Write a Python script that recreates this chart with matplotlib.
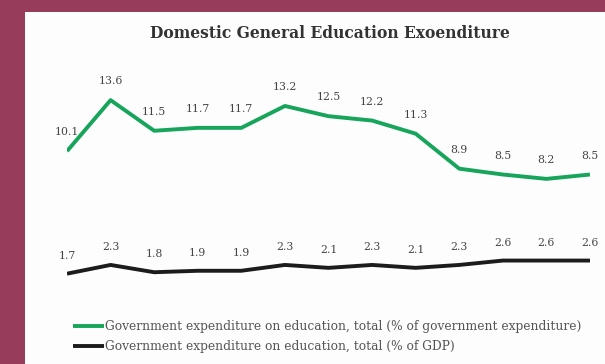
import matplotlib
matplotlib.use("Agg")
import matplotlib.pyplot as plt
from matplotlib.patches import Rectangle

# Data
years = list(range(13))
pct_gov_exp = [10.1, 13.6, 11.5, 11.7, 11.7, 13.2, 12.5, 12.2, 11.3, 8.9, 8.5, 8.2, 8.5]
pct_gdp = [1.7, 2.3, 1.8, 1.9, 1.9, 2.3, 2.1, 2.3, 2.1, 2.3, 2.6, 2.6, 2.6]
series_names = [
    "Government expenditure on education, total (% of government expenditure)",
    "Government expenditure on education, total (% of GDP)",
]
title = "Domestic General Education Exoenditure"

GREEN = "#16a55a"
BLACK = "#1c1c1c"
MAROON = "#983c5c"

plt.rcParams["font.family"] = ["DejaVu Serif"]

fig = plt.figure(figsize=(6.05, 3.64), dpi=100)
fig.patch.set_facecolor(MAROON)
# white slide panel
fig.patches.append(Rectangle((25 / 605, 0), 1, 1 - 12 / 364, transform=fig.transFigure,
                             facecolor="#fdfdfd", edgecolor="none", zorder=-5))

ax = fig.add_axes([67 / 605, 0.18, (590 - 67) / 605, 0.601])
ax.set_facecolor("none")
ax.set_zorder(2)

ax.plot(years, pct_gov_exp, color=GREEN, lw=2.8, solid_capstyle="butt", label=series_names[0])
ax.plot(years, pct_gdp, color=BLACK, lw=2.8, solid_capstyle="butt", label=series_names[1])

for x, v in zip(years, pct_gov_exp):
    ax.annotate(f"{v:.1f}", (x, v), xytext=(0, 13.5), textcoords="offset points",
                ha="center", va="center", fontsize=7.8, color="#444444")
for x, v in zip(years, pct_gdp):
    ax.annotate(f"{v:.1f}", (x, v), xytext=(0, 13), textcoords="offset points",
                ha="center", va="center", fontsize=7.8, color="#444444")

ax.set_xlim(0, 12)
ax.set_ylim(0, 15)
ax.axis("off")

fig.text(330 / 605, 1 - 33 / 364, title, ha="center", va="center",
         fontsize=11.2, fontweight="bold", color="#333333")

leg = fig.legend(loc="upper left", bbox_to_anchor=(73 / 605, 1 - 320 / 364), frameon=False,
                 fontsize=8.8, handlelength=2.5, handletextpad=0.15, labelspacing=0.6,
                 labelcolor="#555555", borderpad=0, borderaxespad=0)
leg.set_zorder(3)

fig.savefig("out.png", dpi=100, facecolor=fig.get_facecolor())
